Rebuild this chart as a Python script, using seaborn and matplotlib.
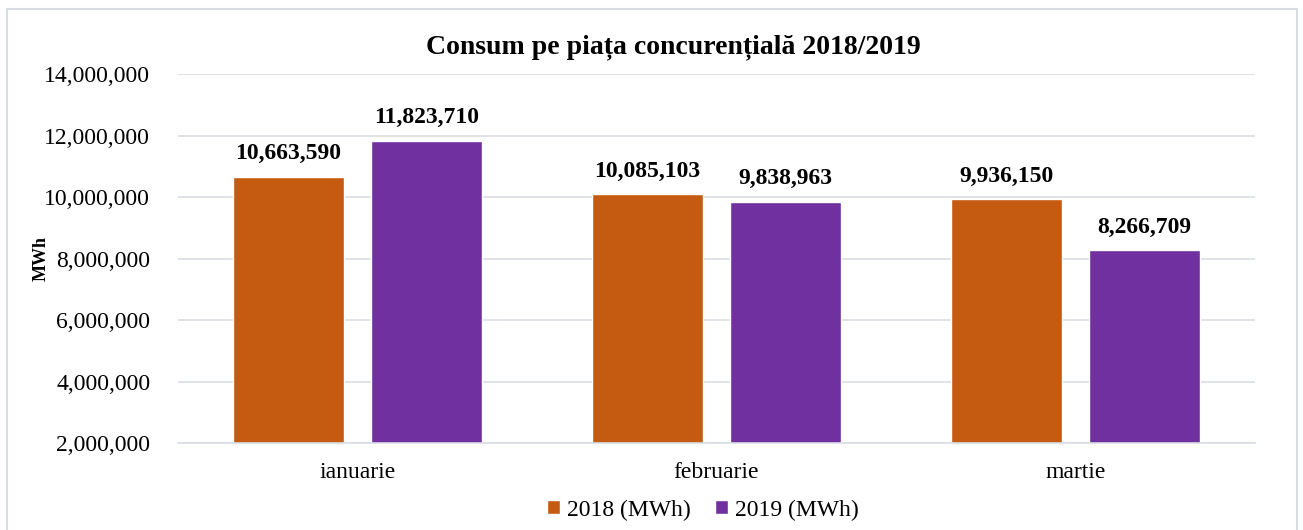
import pandas as pd
import numpy as np
import matplotlib
matplotlib.use("Agg")
import matplotlib.pyplot as plt
import seaborn as sns
from matplotlib.ticker import FuncFormatter
from matplotlib.patches import Rectangle

# ------------------------------
# Data
# ------------------------------
months = ["ianuarie", "februarie", "martie"]
values_2018 = [10663590, 10085103, 9936150]
values_2019 = [11823710, 9838963, 8266709]
series_names = ["2018 (MWh)", "2019 (MWh)"]
colors = ["#C55A11", "#7030A0"]

df = pd.DataFrame({
    "luna": months * 2,
    "serie": [series_names[0]] * 3 + [series_names[1]] * 3,
    "MWh": values_2018 + values_2019,
})

# ------------------------------
# Plot
# ------------------------------
sns.set_theme(style="white")
plt.rcParams["font.family"] = ["Liberation Serif", "DejaVu Serif"]
plt.rcParams["text.color"] = "black"

fig = plt.figure(figsize=(13.03, 5.30), dpi=100)
ax = fig.add_axes([178 / 1303, 1 - 443 / 530, (1255 - 178) / 1303, (443 - 74) / 530])

sns.barplot(data=df, x="luna", y="MWh", hue="serie", palette=colors,
            width=0.768, gap=0.19, ax=ax, legend=True, saturation=1)

ax.set_ylim(2000000, 14000000)
ax.set_yticks(np.arange(2000000, 14000001, 2000000))
ax.yaxis.set_major_formatter(FuncFormatter(lambda v, p: f"{int(v):,}"))
ax.grid(axis="y", color="#D9DDE3", linewidth=1.2)
ax.set_axisbelow(True)
for s in ["top", "right", "left"]:
    ax.spines[s].set_visible(False)
ax.spines["bottom"].set_color("#D9DDE3")
ax.spines["bottom"].set_linewidth(1.2)
ax.tick_params(axis="both", length=0, labelsize=17, colors="black")
ax.tick_params(axis="y", pad=20)
ax.tick_params(axis="x", pad=14)
ax.set_xlabel("")
ax.set_ylabel("MWh", fontsize=13, fontweight="bold", color="black")
ax.yaxis.set_label_coords(-0.119, 0.5)

for cont in ax.containers:
    ax.bar_label(cont, labels=[f"{int(v):,}" for v in cont.datavalues],
                 padding=9, fontsize=17, fontweight="bold", color="black")

fig.text(673 / 1303, 1 - 47 / 530, "Consum pe piața concurențială 2018/2019",
         fontsize=20, fontweight="bold", ha="center", va="center", color="black")

handles, labels = ax.get_legend_handles_labels()
ax.get_legend().remove()
fig.legend(handles, labels, loc="center", bbox_to_anchor=(703 / 1303, 1 - 510 / 530),
           ncol=2, frameon=False, fontsize=17, handlelength=0.55, handleheight=0.55,
           handletextpad=0.3, columnspacing=1.0)

# chart border
fig.patches.append(Rectangle((7 / 1303, -0.01), (1297 - 7) / 1303, 1 - 9 / 530 + 0.01,
                             transform=fig.transFigure, fill=False,
                             edgecolor="#D9DDE3", linewidth=1.5))

fig.savefig("out.png", dpi=100)
